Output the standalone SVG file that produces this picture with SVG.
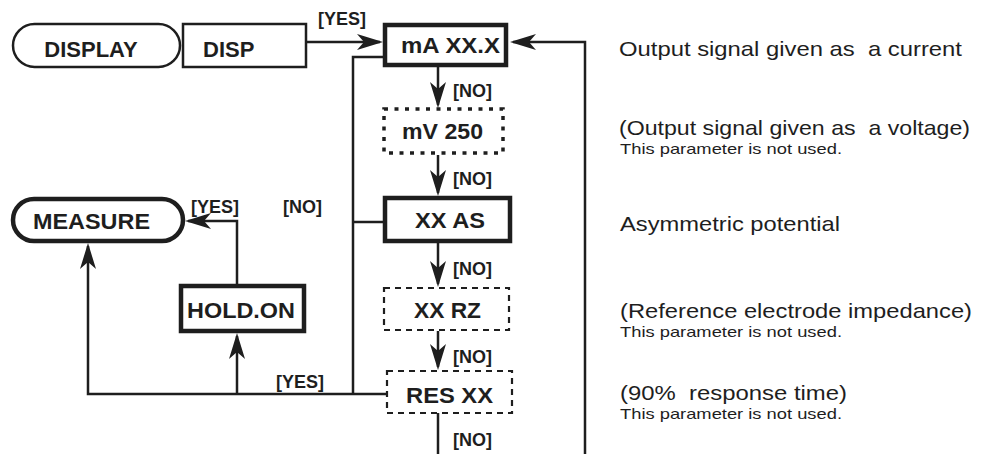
<svg xmlns="http://www.w3.org/2000/svg" width="984" height="454" viewBox="0 0 984 454">
<style>
  .lbl { font-family: "Liberation Sans", Arial, sans-serif; font-weight: bold; font-size: 22px; fill: #1e1e1e; }
  .tag { font-family: "Liberation Sans", Arial, sans-serif; font-weight: bold; font-size: 18px; fill: #1e1e1e; }
  .desc { font-family: "Liberation Sans", Arial, sans-serif; font-size: 21px; fill: #1e1e1e; white-space: pre; }
  .note { font-family: "Liberation Sans", Arial, sans-serif; font-size: 15px; fill: #1e1e1e; }
  .thin { fill: #fff; stroke: #1e1e1e; stroke-width: 2.5; }
  .thick { fill: #fff; stroke: #1e1e1e; stroke-width: 4.5; }
  .dotted { fill: #fff; stroke: #1e1e1e; stroke-width: 3.5; stroke-dasharray: 4 6.5; }
  .dashed { fill: #fff; stroke: #1e1e1e; stroke-width: 2.2; stroke-dasharray: 6 5; }
  .conn { fill: none; stroke: #1e1e1e; stroke-width: 2.5; }
</style>
<defs>
  <marker id="arr" viewBox="0 0 26 16" markerWidth="26" markerHeight="16" refX="23" refY="8" orient="auto" markerUnits="userSpaceOnUse">
    <path d="M26,8 L0,0 L7,8 L0,16 Z" fill="#1e1e1e"/>
  </marker>
</defs>

<g id="connectors">
  <path class="conn" d="M307,42 H380" marker-end="url(#arr)"/>
  <path class="conn" d="M585,454 V42 H513" marker-end="url(#arr)"/>
  <path class="conn" d="M383,57 H353 V394"/>
  <path class="conn" d="M438,67 V105" marker-end="url(#arr)"/>
  <path class="conn" d="M438,155 V193" marker-end="url(#arr)"/>
  <path class="conn" d="M353,222 H383"/>
  <path class="conn" d="M438,243 V284" marker-end="url(#arr)"/>
  <path class="conn" d="M438,331 V367" marker-end="url(#arr)"/>
  <path class="conn" d="M386,394 H88 V246" marker-end="url(#arr)"/>
  <path class="conn" d="M237,394 V336" marker-end="url(#arr)"/>
  <path class="conn" d="M237,284 V221 H188" marker-end="url(#arr)"/>
  <path class="conn" d="M438,413 V454"/>
  <text class="tag" x="318" y="25">[YES]</text>
  <text class="tag" x="453" y="97">[NO]</text>
  <text class="tag" x="453" y="185">[NO]</text>
  <text class="tag" x="453" y="275">[NO]</text>
  <text class="tag" x="453" y="363">[NO]</text>
  <text class="tag" x="453" y="446">[NO]</text>
  <text class="tag" x="191" y="213">[YES]</text>
  <text class="tag" x="283" y="213">[NO]</text>
  <text class="tag" x="276" y="388">[YES]</text>
</g>

<g id="display">
  <rect class="thin" x="13" y="24" width="167" height="43" rx="21.5" ry="21.5"/>
  <text class="lbl" x="91" y="57" text-anchor="middle">DISPLAY</text>
</g>
<g id="disp">
  <rect class="thin" x="183" y="24" width="123" height="43"/>
  <text class="lbl" x="203" y="57">DISP</text>
</g>
<g id="ma">
  <rect class="thick" x="385" y="25" width="121" height="40"/>
  <text class="lbl" x="401" y="53" textLength="99" lengthAdjust="spacingAndGlyphs">mA XX.X</text>
</g>
<g id="mv">
  <rect class="dotted" x="384" y="109" width="119" height="44"/>
  <text class="lbl" x="402" y="139" textLength="81" lengthAdjust="spacingAndGlyphs">mV 250</text>
</g>
<g id="xxas">
  <rect class="thick" x="385" y="198" width="125" height="43"/>
  <text class="lbl" x="415" y="228" textLength="70" lengthAdjust="spacingAndGlyphs">XX AS</text>
</g>
<g id="xxrz">
  <rect class="dashed" x="384" y="288" width="125" height="42"/>
  <text class="lbl" x="414" y="318" textLength="67" lengthAdjust="spacingAndGlyphs">XX RZ</text>
</g>
<g id="resxx">
  <rect class="dashed" x="387" y="371" width="125" height="42"/>
  <text class="lbl" x="406" y="403" textLength="87" lengthAdjust="spacingAndGlyphs">RES XX</text>
</g>
<g id="measure">
  <rect class="thick" x="13" y="199" width="170" height="42" rx="21" ry="21"/>
  <text class="lbl" x="33" y="229" textLength="117" lengthAdjust="spacingAndGlyphs">MEASURE</text>
</g>
<g id="holdon">
  <rect class="thick" x="181" y="286" width="123" height="45"/>
  <text class="lbl" x="187" y="318" textLength="108" lengthAdjust="spacingAndGlyphs">HOLD.ON</text>
</g>

<g id="descriptions">
  <text class="desc" x="619" y="56" textLength="343" lengthAdjust="spacingAndGlyphs">Output signal given as  a current</text>
  <text class="desc" x="619" y="135" textLength="351" lengthAdjust="spacingAndGlyphs">(Output signal given as  a voltage)</text>
  <text class="note" x="620" y="154" textLength="222" lengthAdjust="spacingAndGlyphs">This parameter is not used.</text>
  <text class="desc" x="620" y="231" textLength="220" lengthAdjust="spacingAndGlyphs">Asymmetric potential</text>
  <text class="desc" x="620" y="318" textLength="352" lengthAdjust="spacingAndGlyphs">(Reference electrode impedance)</text>
  <text class="note" x="620" y="337" textLength="222" lengthAdjust="spacingAndGlyphs">This parameter is not used.</text>
  <text class="desc" x="620" y="400" textLength="227" lengthAdjust="spacingAndGlyphs">(90%  response time)</text>
  <text class="note" x="620" y="419" textLength="222" lengthAdjust="spacingAndGlyphs">This parameter is not used.</text>
</g>
</svg>
